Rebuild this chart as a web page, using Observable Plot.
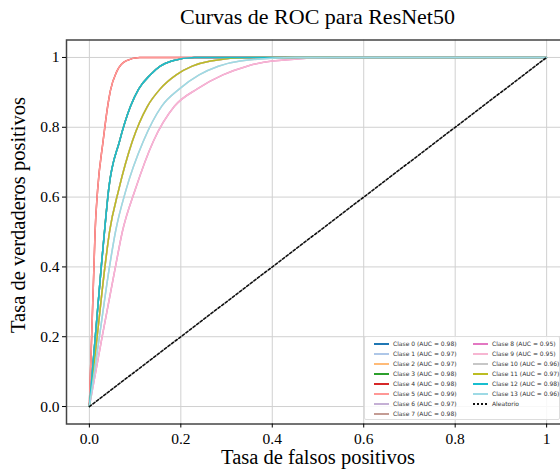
<!DOCTYPE html>
<html>
<head>
<meta charset="utf-8">
<script src="https://cdn.jsdelivr.net/npm/d3@7"></script>
<script src="https://cdn.jsdelivr.net/npm/@observablehq/plot@0.6"></script>
<style>
  html, body { margin: 0; padding: 0; background: #fff; overflow: hidden; width: 560px; height: 469px; }
  #wrap { position: relative; width: 560px; height: 469px; overflow: hidden; }
  #title { position: absolute; left: 0; top: 4px; width: 635px; text-align: center; font-family: "Liberation Serif", serif; font-size: 22px; line-height: 26px; color: #000; z-index: 2; }
  #chart { position: absolute; left: 0; top: 0; width: 575px; }
  #chart svg { max-width: none !important; width: 575px !important; height: 469px !important; overflow: visible; }
  #legend { position: absolute; left: 364px; top: 336px; width: 194px; height: 82px; background: rgba(255,255,255,0.85); border: 1px solid #ddd; border-radius: 2px; font-family: "DejaVu Sans", sans-serif; font-size: 6px; color: #333; }
  .item { position: absolute; height: 8px; line-height: 8px; white-space: nowrap; }
  .sw { position: absolute; left: 0; top: 3px; width: 15px; height: 2px; }
  .lb { position: absolute; left: 19px; top: 0; }
</style>
</head>
<body>
<div id="wrap">
  <div id="chart"></div>
  <div id="title">Curvas de ROC para ResNet50</div>
  <div id="legend"></div>
</div>
<script>
// ROC curve shapes (false positive rate, true positive rate)
const curveSalmonFpr = [0, 0.005, 0.010, 0.0125, 0.018, 0.030, 0.040, 0.046, 0.060, 0.080, 0.110, 0.30, 1];
const curveSalmonTpr = [0, 0.20, 0.40, 0.50, 0.62, 0.76, 0.86, 0.905, 0.96, 0.99, 1.0, 1.0, 1];

const curveCyanFpr = [0, 0.013, 0.026, 0.033, 0.042, 0.066, 0.090, 0.108, 0.133, 0.155, 0.180, 0.230, 0.40, 1];
const curveCyanTpr = [0, 0.20, 0.40, 0.50, 0.62, 0.76, 0.86, 0.91, 0.95, 0.975, 0.99, 1.0, 1.0, 1];

const curveOliveFpr = [0, 0.017, 0.034, 0.044, 0.064, 0.094, 0.127, 0.155, 0.190, 0.225, 0.265, 0.350, 0.50, 1];
const curveOliveTpr = [0, 0.20, 0.40, 0.50, 0.62, 0.76, 0.86, 0.91, 0.95, 0.975, 0.99, 1.0, 1.0, 1];

const curveLightFpr = [0, 0.022, 0.044, 0.057, 0.080, 0.118, 0.158, 0.197, 0.240, 0.282, 0.330, 0.450, 0.60, 1];
const curveLightTpr = [0, 0.20, 0.40, 0.50, 0.62, 0.76, 0.86, 0.91, 0.95, 0.975, 0.99, 1.0, 1.0, 1];

const curvePinkFpr = [0, 0.028, 0.057, 0.072, 0.100, 0.140, 0.186, 0.236, 0.292, 0.345, 0.400, 0.550, 0.70, 1];
const curvePinkTpr = [0, 0.20, 0.40, 0.50, 0.62, 0.76, 0.86, 0.91, 0.95, 0.975, 0.99, 1.0, 1.0, 1];

const curves = [
  {fpr: curveSalmonFpr, tpr: curveSalmonTpr},
  {fpr: curveCyanFpr, tpr: curveCyanTpr},
  {fpr: curveOliveFpr, tpr: curveOliveTpr},
  {fpr: curveLightFpr, tpr: curveLightTpr},
  {fpr: curvePinkFpr, tpr: curvePinkTpr}
];

// classes
const classNames = ["Clase 0", "Clase 1", "Clase 2", "Clase 3", "Clase 4", "Clase 5", "Clase 6",
                    "Clase 7", "Clase 8", "Clase 9", "Clase 10", "Clase 11", "Clase 12", "Clase 13"];
const classAUC = [0.98, 0.97, 0.97, 0.98, 0.98, 0.99, 0.97, 0.98, 0.95, 0.95, 0.96, 0.97, 0.98, 0.96];
const classCurve = [1, 2, 2, 1, 0, 0, 2, 1, 4, 4, 3, 2, 1, 3];
const classColors = ["#1f77b4", "#aec7e8", "#ffbb78", "#2ca02c", "#d62728", "#ff9896", "#c5b0d5",
                     "#c49c94", "#e377c2", "#f7b6d2", "#c7c7c7", "#bcbd22", "#17becf", "#9edae5"];

// random classifier
const randomFpr = [0, 1];
const randomTpr = [0, 1];
const randomLabel = "Aleatorio";

const xTicks = [0, 0.2, 0.4, 0.6, 0.8, 1];
const yTicks = [0, 0.2, 0.4, 0.6, 0.8, 1];

const fmt = d => d === 1 ? "1" : d3.format(".1f")(d);
const serif = "Liberation Serif, Times New Roman, serif";

const classMarks = classNames.map((name, i) => {
  const c = curves[classCurve[i]];
  const rows = c.fpr.map((f, j) => ({fpr: f, tpr: c.tpr[j]}));
  return Plot.line(rows, {x: "fpr", y: "tpr", stroke: classColors[i], strokeWidth: 1.5, curve: "monotone-x"});
});

const randomRows = randomFpr.map((f, j) => ({fpr: f, tpr: randomTpr[j]}));

const chart = Plot.plot({
  width: 575,
  height: 469,
  marginLeft: 66,
  marginRight: 6,
  marginTop: 39.5,
  marginBottom: 45.5,
  style: {fontFamily: serif, fontSize: "15px", color: "#000", background: "transparent", maxWidth: "none"},
  x: {domain: [-0.05, 1.05], ticks: xTicks, tickFormat: fmt, label: null, tickSize: 4, tickPadding: 5},
  y: {domain: [-0.05, 1.05], ticks: yTicks, tickFormat: fmt, label: null, tickSize: 4, tickPadding: 3},
  marks: [
    Plot.gridX(xTicks, {stroke: "#d0d0d0", strokeOpacity: 1, strokeWidth: 1}),
    Plot.gridY(yTicks, {stroke: "#d0d0d0", strokeOpacity: 1, strokeWidth: 1}),
    ...classMarks,
    Plot.line(randomRows, {x: "fpr", y: "tpr", stroke: "#111", strokeWidth: 1.6, strokeDasharray: "2.5,2"}),
    Plot.frame({stroke: "#444", strokeWidth: 1.5}),
    Plot.axisX({ticks: xTicks, tickFormat: fmt, label: null, tickSize: 4, tickPadding: 5, fontSize: 15.5}),
    Plot.axisY({ticks: yTicks, tickFormat: fmt, label: null, tickSize: 4, tickPadding: 3, fontSize: 15.5}),
    Plot.text(["Tasa de falsos positivos"], {frameAnchor: "bottom", dy: 39.5, fontSize: 20.5, fill: "#000", textAnchor: "middle"}),
    Plot.text(["Tasa de verdaderos positivos"], {frameAnchor: "left", dx: -48, dy: -17, rotate: -90, fontSize: 20.5, fill: "#000", textAnchor: "middle"})
  ]
});
document.getElementById("chart").appendChild(chart);

// legend
const legend = document.getElementById("legend");
const entries = classNames.map((n, i) => ({label: `${n} (AUC = ${classAUC[i].toFixed(2)})`, color: classColors[i], dash: false}));
entries.push({label: randomLabel, color: "#111", dash: true});
entries.forEach((e, k) => {
  const col = k < 8 ? 0 : 1;
  const row = k < 8 ? k : k - 8;
  const div = document.createElement("div");
  div.className = "item";
  div.style.left = (col === 0 ? 9 : 108) + "px";
  div.style.top = (3 + row * 10) + "px";
  const sw = document.createElement("div");
  sw.className = "sw";
  if (e.dash) {
    sw.style.background = `repeating-linear-gradient(90deg, ${e.color} 0 2.5px, transparent 2.5px 4px)`;
  } else {
    sw.style.backgroundColor = e.color;
  }
  const lb = document.createElement("div");
  lb.className = "lb";
  lb.textContent = e.label;
  div.appendChild(sw);
  div.appendChild(lb);
  legend.appendChild(div);
});
</script>
</body>
</html>
